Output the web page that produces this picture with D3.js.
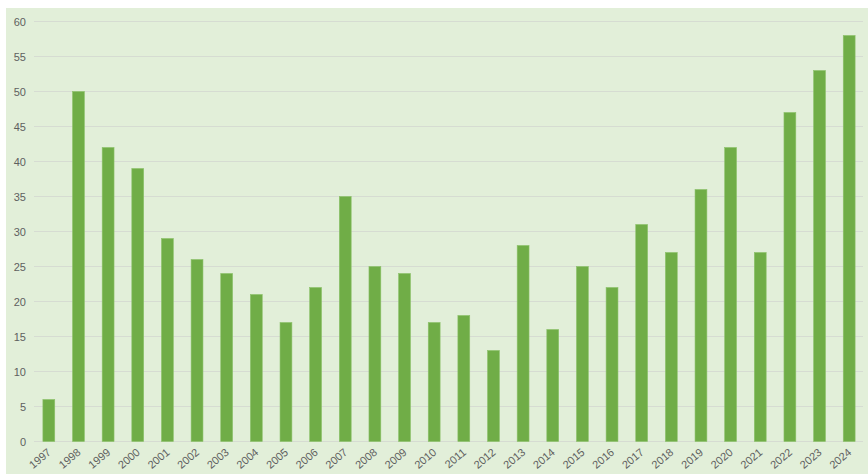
<!DOCTYPE html>
<html>
<head>
<meta charset="utf-8">
<script src="https://cdnjs.cloudflare.com/ajax/libs/d3/7.8.5/d3.min.js"></script>
<style>
    body { margin: 0; background: #fff; }
    .tick text { fill: #5f5f5f; font-family: "Liberation Sans", Arial, sans-serif; font-size: 11px; }
</style>
</head>
<body>
<div id="chart"></div>
<script>
const years = ["1997","1998","1999","2000","2001","2002","2003","2004","2005","2006","2007","2008","2009","2010",
               "2011","2012","2013","2014","2015","2016","2017","2018","2019","2020","2021","2022","2023","2024"];
const values = [6, 50, 42, 39, 29, 26, 24, 21, 17, 22, 35, 25, 24, 17,
                18, 13, 28, 16, 25, 22, 31, 27, 36, 42, 27, 47, 53, 58];
const yTicks = [0, 5, 10, 15, 20, 25, 30, 35, 40, 45, 50, 55, 60];

const width = 868, height = 475;

const svg = d3.select("#chart").append("svg")
    .attr("width", width)
    .attr("height", height);

// plot area background
svg.append("rect")
    .attr("x", 6).attr("y", 8)
    .attr("width", width - 6).attr("height", height - 9)
    .attr("fill", "#e2efd9");

const x = d3.scaleBand()
    .domain(years)
    .range([34, 864])
    .paddingInner(0.6)
    .paddingOuter(0.3);

const y = d3.scaleLinear()
    .domain([0, 60])
    .range([441.5, 21.5]);

// gridlines
svg.append("g")
    .selectAll("line")
    .data(yTicks)
    .join("line")
    .attr("x1", 34).attr("x2", 863)
    .attr("y1", d => y(d)).attr("y2", d => y(d))
    .attr("stroke", "#d6dcd2")
    .attr("stroke-width", 1);

// y axis labels
const yAxis = svg.append("g")
    .attr("transform", "translate(26,0)")
    .call(d3.axisLeft(y).tickValues(yTicks).tickSize(0).tickPadding(0));
yAxis.select(".domain").remove();

// bars
svg.append("g")
    .selectAll("rect")
    .data(values)
    .join("rect")
    .attr("x", (d, i) => x(years[i]))
    .attr("y", d => y(d))
    .attr("width", x.bandwidth())
    .attr("height", d => y(0) - y(d))
    .attr("fill", "#70ad47")
    .attr("stroke", "#8cc26a")
    .attr("stroke-width", 0.6);

// x axis labels
const xAxis = svg.append("g")
    .attr("transform", "translate(0," + y(0) + ")")
    .call(d3.axisBottom(x).tickSize(0).tickPadding(0));
xAxis.select(".domain").remove();
xAxis.selectAll("text")
    .attr("text-anchor", "end")
    .attr("dy", 0)
    .attr("transform", "translate(3,12) rotate(-40)");
</script>
</body>
</html>
